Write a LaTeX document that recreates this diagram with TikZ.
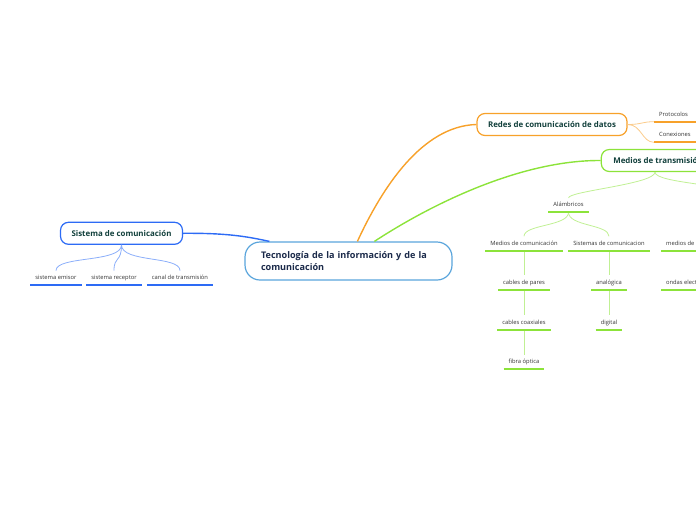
\documentclass[tikz,border=0pt]{standalone}
\usepackage{fontspec}
\setmainfont{Open Sans}
\usetikzlibrary{positioning, calc}
\definecolor{cnavy}{HTML}{1B2A4A}
\definecolor{cdkgreen}{HTML}{12403C}
\definecolor{cleaf}{HTML}{333333}
\definecolor{cblue}{HTML}{2D6BF5}
\definecolor{csky}{HTML}{5AA5DC}
\definecolor{corange}{HTML}{F7A12A}
\definecolor{cgreen}{HTML}{8CE33A}
\tikzset{
  topic/.style={draw=#1, fill=white, rounded corners=8pt, line width=1.2pt, font=\fontsize{7.9}{10}\selectfont\bfseries, text=cdkgreen, minimum height=22pt, inner xsep=8pt},
  leaf/.style={font=\fontsize{5.8}{7}\selectfont, text=cleaf, inner xsep=5pt, inner ysep=4pt, text height=4.5pt, text depth=1.5pt, anchor=south},
  uline/.style={draw=#1, line width=2pt},
  link/.style={draw=#1, line width=1.4pt},
  twig/.style={draw=#1!55, line width=0.8pt},
}
\begin{document}
\begin{tikzpicture}[x=1pt, y=-1pt]
  \useasboundingbox (0,0) rectangle (696,520);
  \clip (0,0) rectangle (696,520);
  % central topic
  \node[draw=csky, fill=white, rounded corners=15pt, line width=1.2pt, minimum width=207pt, minimum height=38pt,
    text width=175pt, inner xsep=16pt, align=left, text=cnavy, font=\fontsize{9.1}{12.4}\selectfont\bfseries]
    (tec) at (348.5,261) {Tecnología de la información y de la\\comunicación};
  % main topics
  \node[topic=cblue, minimum width=122pt] (sis) at (121.5,233.3) {Sistema de comunicación};
  \node[topic=corange, minimum width=150pt] (red) at (552,124.5) {Redes de comunicación de datos};
  \node[topic=cgreen, anchor=west, minimum width=109pt, inner xsep=12pt] (med) at (600.7,160.5) {Medios de transmisión};
  \draw[link=cblue] (sis.east) .. controls (225,233) and (245,236) .. ($(tec.north west)+(25,0)$);
  \draw[link=corange] ($(tec.north west)+(113,0)$) .. controls (382,188) and (422,126) .. (red.west);
  \draw[link=cgreen] ($(tec.north west)+(130,0)$) .. controls (430,205) and (520,160) .. (med.west);
  % sistema de comunicacion
  \node[leaf] (emi) at (56,285) {sistema emisor};
  \node[leaf] (rec) at (114,285) {sistema receptor};
  \node[leaf] (can) at (180,285) {canal de transmisión};
  \foreach \n in {emi, rec, can}
    \draw[twig=cblue] (sis.south) .. controls +(0,18) and +(0,-15) .. (\n.north);
  % redes
  \node[leaf, anchor=south west, text width=40pt, align=left] (pro) at (654,121.7) {Protocolos};
  \node[leaf, anchor=south west, text width=40pt, align=left] (con) at (654,142.3) {Conexiones};
  \foreach \n in {pro, con}
    \draw[twig=corange] (red.east) .. controls +(14,0) and +(-12,0) .. (\n.south west);
  % medios de transmision
  \node[leaf] (alam) at (568.5,212.3) {Alámbricos};
  \coordinate (inal) at (742,198);
  \foreach \n in {alam, inal}
    \draw[twig=cgreen] ($(med.south west)+(54.3,0)$) .. controls +(0,12) and +(0,-14) .. (\n);
  \node[leaf] (mcom) at (524,250.7) {Medios de comunicación};
  \node[leaf] (scom) at (609,250.7) {Sistemas de comunicacion};
  \foreach \n in {mcom, scom}
    \draw[twig=cgreen] (alam.south) .. controls +(0,14) and +(0,-12) .. (\n.north);
  \node[leaf, below=24.6pt of mcom] (pares) {cables de pares};
  \node[leaf, below=25.7pt of pares] (coax) {cables coaxiales};
  \node[leaf, below=25pt of coax] (fib) {fibra óptica};
  \node[leaf, below=24.6pt of scom] (ana) {analógica};
  \node[leaf, below=25.7pt of ana] (dig) {digital};
  \node[leaf, anchor=south west] (mdc) at (661,250.7) {medios de comunicación};
  \node[leaf, below=24.8pt of mdc] (ond) {ondas electromagnéticas};
  \foreach \a/\b in {mcom/pares, pares/coax, coax/fib, scom/ana, ana/dig, mdc/ond}
    \draw[twig=cgreen] (\a.south) -- (\b.north);
  % underlines
  \foreach \n/\c in {emi/cblue, rec/cblue, can/cblue, pro/corange, con/corange, alam/cgreen, mcom/cgreen, scom/cgreen,
    mdc/cgreen, pares/cgreen, coax/cgreen, fib/cgreen, ana/cgreen, dig/cgreen, ond/cgreen}
    \draw[uline=\c] (\n.south west) -- (\n.south east);
\end{tikzpicture}
\end{document}
